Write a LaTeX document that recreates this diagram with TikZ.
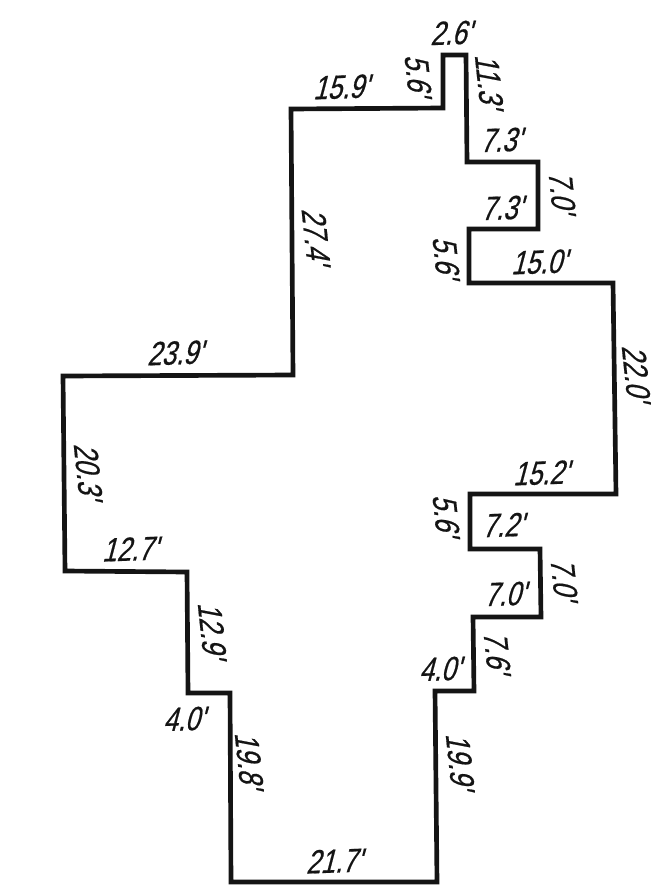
\documentclass[tikz,border=0pt]{standalone}
\usepackage{fontspec}
\setmainfont{Liberation Sans}
\newfontfamily\dimfont[FakeStretch=0.78,FakeSlant=0.3,FakeBold=0.5]{Liberation Sans}
\tikzset{
  outline/.style={line width=3.5pt,line join=miter,draw=black!92},
  dim/.style={font=\dimfont\fontsize{25}{25}\selectfont,inner sep=0pt,text=black!92},
  hdim/.style={dim,xshift=-1.2pt,rotate=2},
  vdim/.style={dim,yshift=2.6pt,rotate=-84}
}
\begin{document}
\begin{tikzpicture}[x=0.75pt,y=-0.75pt]
\useasboundingbox (0,0) rectangle (665,885);
\fill[white] (0,0) rectangle (665,885);
\draw[outline] (443,55) -- (466,55) -- (467,162) -- (538,162) -- (538,229) -- (469,229) -- (469,283) -- (613,283)
  -- (616,494) -- (470,494) -- (470,549) -- (540,549) -- (541,617) -- (473,617) -- (474,691) -- (435,691)
  -- (437,882) -- (231,882) -- (230,693) -- (188,693) -- (187,572) -- (65,571) -- (63,376) -- (293,375)
  -- (291,109) -- (443,108) -- cycle;
\node[hdim] (a1) at (452,33) {2.6'};
\node[vdim] (a2) at (418,78) {5.6'};
\node[vdim] (a3) at (489,84) {11.3'};
\node[hdim] (a4) at (502,140) {7.3'};
\node[vdim] (a5) at (562,195) {7.0'};
\node[hdim] (a6) at (503,208) {7.3'};
\node[vdim] (a7) at (446,260) {5.6'};
\node[hdim] (a8) at (540,262) {15.0'};
\node[vdim] (a9) at (636,376) {22.0'};
\node[hdim] (a10) at (542,473) {15.2'};
\node[vdim] (a11) at (446,518) {5.6'};
\node[hdim] (a12) at (504,525) {7.2'};
\node[vdim] (a13) at (564,582) {7.0'};
\node[hdim] (a14) at (506,594) {7.0'};
\node[vdim] (a15) at (497,655) {7.6'};
\node[hdim] (a16) at (441,669) {4.0'};
\node[vdim] (a17) at (460,764) {19.9'};
\node[hdim] (a18) at (335,861) {21.7'};
\node[vdim] (a19) at (249,763) {19.8'};
\node[hdim] (a20) at (185,719) {4.0'};
\node[vdim] (a21) at (212,633) {12.9'};
\node[hdim] (a22) at (131,549) {12.7'};
\node[vdim] (a23) at (88,474) {20.3'};
\node[hdim] (a24) at (176,353) {23.9'};
\node[vdim] (a25) at (316,239) {27.4'};
\node[hdim] (a26) at (342,87) {15.9'};
\end{tikzpicture}
\end{document}
